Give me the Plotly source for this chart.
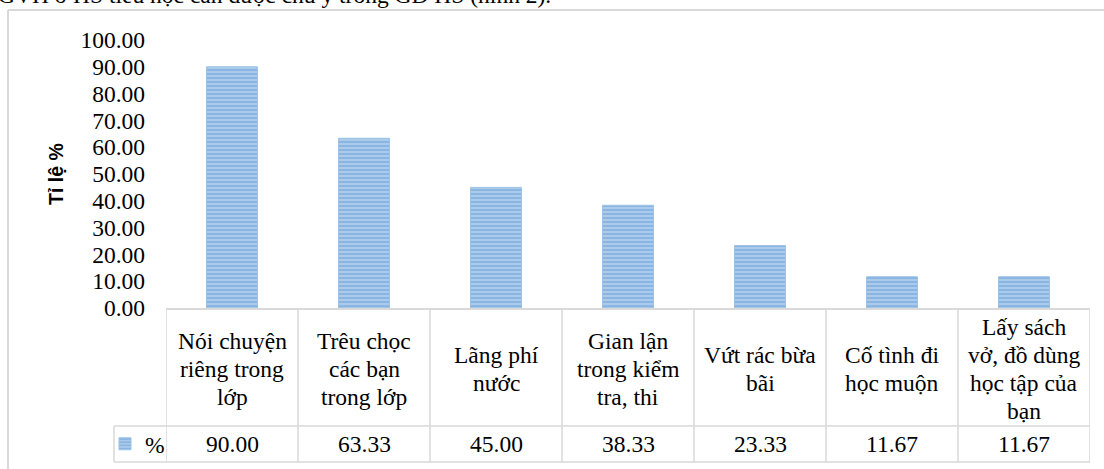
import plotly.graph_objects as go

categories = [
    "Nói chuyện riêng trong lớp",
    "Trêu chọc các bạn trong lớp",
    "Lãng phí nước",
    "Gian lận trong kiểm tra, thi",
    "Vứt rác bừa bãi",
    "Cố tình đi học muộn",
    "Lấy sách vở, đồ dùng học tập của bạn",
]
category_lines = [
    ["Nói chuyện", "riêng trong", "lớp"],
    ["Trêu chọc", "các bạn", "trong lớp"],
    ["Lãng phí", "nước"],
    ["Gian lận", "trong kiểm", "tra, thi"],
    ["Vứt rác bừa", "bãi"],
    ["Cố tình đi", "học muộn"],
    ["Lấy sách", "vở, đồ dùng", "học tập của", "bạn"],
]
series_name = "%"
values = [90.00, 63.33, 45.00, 38.33, 23.33, 11.67, 11.67]
y_ticks = [0, 10, 20, 30, 40, 50, 60, 70, 80, 90, 100]
y_title = "Tỉ lệ %"
page_text = "GVH ở HS tiểu học cần được chú ý trong GD HS (hình 2)."

W, H = 1104, 469
L, R, T, B = 166, 1090, 40, 308
PW, PH = R - L, B - T


def xp(px):
    return (px - L) / PW


def yp(py):
    return (B - py) / PH


SERIF = "'Liberation Serif', 'Times New Roman', Times, serif"
SANS = "'Liberation Sans', Arial, sans-serif"
GRID = "#D9D9D9"
FS = 23.5
LINE_H = 28
n = len(categories)

fig = go.Figure()
fig.add_trace(go.Bar(
    x=list(range(n)),
    y=values,
    name=series_name,
    width=0.386,
    marker=dict(
        color="#A9C8EA",
        line=dict(color="#9DC3E6", width=1),
        pattern=dict(shape="-", fgcolor="#5B9BD5", bgcolor="#B4CFEC",
                     size=4, solidity=0.6, fillmode="overlay"),
    ),
    showlegend=True,
))

shapes = []
line_style = dict(color=GRID, width=1.5)
for k in range(n + 1):
    shapes.append(dict(type="line", xref="x", yref="paper",
                       x0=k - 0.5, x1=k - 0.5, y0=yp(308), y1=yp(462),
                       line=line_style))
for py in (426, 462):
    shapes.append(dict(type="line", xref="paper", yref="paper",
                       x0=xp(114), x1=xp(1090), y0=yp(py), y1=yp(py),
                       line=line_style))
shapes.append(dict(type="line", xref="paper", yref="paper",
                   x0=xp(114), x1=xp(114), y0=yp(426), y1=yp(462),
                   line=line_style))
shapes.append(dict(type="line", xref="paper", yref="paper",
                   x0=xp(8), x1=xp(8), y0=yp(10), y1=yp(480),
                   line=dict(color=GRID, width=2)))
shapes.append(dict(type="line", xref="paper", yref="paper",
                   x0=xp(8), x1=xp(1120), y0=yp(10), y1=yp(10),
                   line=dict(color=GRID, width=2)))

annotations = []
for i, lines in enumerate(category_lines):
    k = len(lines)
    for j, line in enumerate(lines):
        cy = 369 + (j - (k - 1) / 2) * LINE_H
        annotations.append(dict(
            x=i, xref="x", y=yp(cy), yref="paper", yanchor="middle",
            text=line, showarrow=False, align="center",
            font=dict(family=SERIF, size=FS, color="#000000"),
        ))
    annotations.append(dict(
        x=i, xref="x", y=yp(444), yref="paper", yanchor="middle",
        text=f"{values[i]:.2f}", showarrow=False,
        font=dict(family=SERIF, size=FS, color="#000000"),
    ))
annotations.append(dict(
    x=xp(56), xref="paper", y=yp(174), yref="paper", textangle=-90,
    text=f"<b>{y_title}</b>", showarrow=False, xanchor="center", yanchor="middle",
    font=dict(family=SANS, size=19.5, color="#000000"),
))
annotations.append(dict(
    x=xp(-4), xref="paper", y=yp(10), yref="paper", xanchor="left", yanchor="bottom",
    text=page_text, showarrow=False,
    font=dict(family=SERIF, size=FS, color="#000000"),
))

fig.update_layout(
    width=W, height=H,
    margin=dict(l=L, r=W - R, t=T, b=H - B, pad=0, autoexpand=False),
    paper_bgcolor="white", plot_bgcolor="white",
    shapes=shapes,
    annotations=annotations,
    showlegend=True,
    legend=dict(x=xp(105), y=yp(444), xanchor="left", yanchor="middle",
                bgcolor="rgba(0,0,0,0)", borderwidth=0,
                font=dict(family=SERIF, size=FS, color="#000000"),
                itemwidth=30, tracegroupgap=0),
    xaxis=dict(range=[-0.5, n - 0.5], showticklabels=False, showgrid=False,
               zeroline=False, showline=True, linecolor=GRID, linewidth=2,
               ticks=""),
    yaxis=dict(range=[0, 100], tickvals=y_ticks, tickformat=".2f",
               showgrid=False, zeroline=False, showline=False, ticks="",
               ticklabelstandoff=20,
               tickfont=dict(family=SERIF, size=FS, color="#000000")),
)

fig.write_html("out.html",
               config={"displayModeBar": False},
               post_script="document.body.style.margin='0';document.body.style.overflow='hidden';")
